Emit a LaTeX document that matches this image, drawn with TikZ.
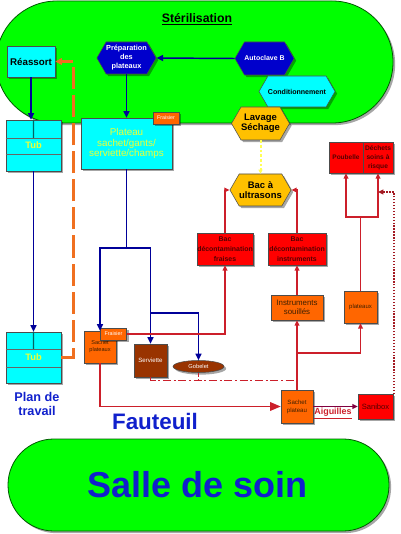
\documentclass[tikz,border=0pt]{standalone}
\usepackage{fontspec}
\setmainfont{Liberation Sans}
\usetikzlibrary{shapes.geometric,shapes.symbols,shadows,arrows.meta,calc}
\newcommand\pxu{0.75pt}
\newcommand\fsz[2]{\fontsize{#1}{#2}\selectfont}
\definecolor{greenc}{HTML}{00FF00}
\definecolor{cyanc}{HTML}{00FFFF}
\definecolor{bluehex}{HTML}{0000CC}
\definecolor{goldc}{HTML}{FFC000}
\definecolor{redc}{HTML}{FF0000}
\definecolor{orc}{HTML}{FF6600}
\definecolor{brownc}{HTML}{993300}
\definecolor{navy}{HTML}{000099}
\definecolor{redline}{HTML}{CC1F2A}
\definecolor{orline}{HTML}{F07020}
\definecolor{textblue}{HTML}{1020CC}
\definecolor{tubyellow}{HTML}{EEFF33}
\definecolor{darkred}{HTML}{550000}
\definecolor{darktext}{HTML}{402000}
\definecolor{purpl}{HTML}{800040}
\definecolor{yline}{HTML}{FFFF55}
\begin{document}
\begin{tikzpicture}[x=0.75pt,y=-0.75pt,
  sh/.style={drop shadow={shadow xshift=1.6pt,shadow yshift=-1.6pt,fill=black,opacity=0.35}},
  bx/.style={rectangle,sh,draw=black!70,line width=0.4pt,inner sep=0pt,align=center},
  cyanbox/.style={bx,fill=cyanc},
  redbox/.style={bx,fill=redc,text=darkred},
  orbox/.style={bx,fill=orc,text=darktext},
  frbox/.style={bx,fill=orc,text=white,minimum width=26*\pxu,minimum height=12*\pxu,font=\fsz{4}{4.5}},
  hexa/.style={shape=signal,signal to=east and west,signal pointer angle=120,sh,draw=black!70,line width=0.4pt,inner sep=0pt,align=center},
  stad/.style={draw=green!35!black,line width=0.6pt,fill=greenc,sh},
  bluel/.style={draw=navy,line width=1.1pt},
  bluea/.style={bluel,-{Triangle[length=5pt,width=4.5pt]}},
  redl/.style={draw=redline,line width=1pt},
  reda/.style={redl,-{Triangle[length=4pt,width=3.5pt]}},
  tubline/.style={draw=black!60,line width=0.5pt},
  tubvert/.style={draw=teal!80!black,line width=0.8pt},
  lbl/.style={inner sep=0pt,align=center}
]
\useasboundingbox (0,0) rectangle (400,534);
% regions
\draw[stad,rounded corners=45.6pt] (-4,1) rectangle (393,123);
\draw[stad,rounded corners=34.4pt] (8,439) rectangle (389,531);
\node[lbl,font=\bfseries\fsz{9.2}{10}] (title) at (197,19) {\underline{Stérilisation}};
% nodes
\node[cyanbox,minimum width=48*\pxu,minimum height=31*\pxu,font=\bfseries\fsz{7.3}{8.5}] (reassort) at (31,61.5) {Réassort};
\node[hexa,fill=bluehex,text=white,minimum width=57*\pxu,minimum height=32*\pxu,font=\bfseries\fsz{5.5}{6.75}] (prep) at (126.5,58) {Préparation\\des\\plateaux};
\node[hexa,fill=bluehex,text=white,minimum width=57*\pxu,minimum height=33*\pxu,font=\bfseries\fsz{5.2}{6.5}] (autoc) at (264.5,58.5) {Autoclave B};
\node[hexa,fill=cyanc,minimum width=66*\pxu,minimum height=31*\pxu,font=\bfseries\fsz{5.3}{6.5}] (cond) at (297,91.5) {Conditionnement};
\node[hexa,fill=goldc,minimum width=57*\pxu,minimum height=33*\pxu,font=\bfseries\fsz{7.1}{7.5}] (lav) at (260.5,123.5) {Lavage\\Séchage};
\node[hexa,fill=goldc,minimum width=57*\pxu,minimum height=32*\pxu,font=\bfseries\fsz{7.1}{7.5}] (ultra) at (260.5,190) {Bac à\\ultrasons};
\node[cyanbox,minimum width=55*\pxu,minimum height=51*\pxu,text=tubyellow,font=\bfseries\fsz{7}{8}] (tub1) at (33.5,145.5) {Tub};
\node[cyanbox,minimum width=55*\pxu,minimum height=51*\pxu,text=tubyellow,font=\bfseries\fsz{7}{8}] (tub2) at (33.5,357.5) {Tub};
\node[cyanbox,minimum width=91*\pxu,minimum height=51*\pxu,text=tubyellow,font=\fsz{7.4}{7.9}] (plateau) at (126.5,143.5) {Plateau\\sachet/gants/\\serviette/champs};
\node[frbox] (fr1) at (166,118) {Fraisier};
\node[orbox,minimum width=32*\pxu,minimum height=32*\pxu,font=\fsz{4.2}{5.2}] (sp1) at (100,347) {Sachet\\plateaux};
\node[frbox] (fr2) at (113.5,334) {Fraisier};
\node[bx,fill=brownc,text=white,minimum width=33*\pxu,minimum height=33*\pxu,font=\fsz{4.6}{5.5}] (serv) at (150.5,360.5) {Serviette};
\node[ellipse,sh,draw=black!70,line width=0.4pt,fill=brownc,text=white,inner sep=0pt,minimum width=51*\pxu,minimum height=12*\pxu,font=\fsz{4.3}{5}] (gob) at (198.5,366.5) {Gobelet};
\node[redbox,minimum width=56*\pxu,minimum height=32*\pxu,font=\bfseries\fsz{5.2}{7.3}] (bacf) at (225,249) {Bac\\décontamination\\fraises};
\node[redbox,minimum width=58*\pxu,minimum height=32*\pxu,font=\bfseries\fsz{5.2}{7.3}] (baci) at (297,249) {Bac\\décontamination\\instruments};
\node[orbox,minimum width=52*\pxu,minimum height=25*\pxu,font=\fsz{5.9}{6.9}] (inst) at (297,307.5) {Instruments\\souillés};
\node[orbox,minimum width=33*\pxu,minimum height=32*\pxu,font=\fsz{4.5}{5}] (plat) at (360.5,307) {plateaux};
\node[redbox,minimum width=34*\pxu,minimum height=31*\pxu,font=\bfseries\fsz{4.9}{6}] (poub) at (346,157.5) {Poubelle};
\node[redbox,minimum width=30*\pxu,minimum height=31*\pxu,font=\bfseries\fsz{5}{6.6}] (dech) at (378,157.5) {Déchets\\soins à\\risque};
\node[orbox,minimum width=32*\pxu,minimum height=33*\pxu,font=\fsz{4.6}{6}] (sp2) at (297,406.5) {Sachet\\plateau};
\node[redbox,minimum width=35*\pxu,minimum height=25*\pxu,font=\fsz{5.7}{6.5}] (sani) at (375.5,406.5) {Sanibox};
% tub rows
\draw[tubline] ($(tub1.north west)!0.353!(tub1.south west)$) -- ($(tub1.north east)!0.353!(tub1.south east)$);
\draw[tubline] ($(tub1.north west)!0.667!(tub1.south west)$) -- ($(tub1.north east)!0.667!(tub1.south east)$);
\draw[tubvert] (tub1.north) -- ($(tub1.north)!0.353!(tub1.south)$);
\draw[tubline] ($(tub2.north west)!0.333!(tub2.south west)$) -- ($(tub2.north east)!0.333!(tub2.south east)$);
\draw[tubline] ($(tub2.north west)!0.686!(tub2.south west)$) -- ($(tub2.north east)!0.686!(tub2.south east)$);
\draw[tubvert] (tub2.north) -- ($(tub2.north)!0.333!(tub2.south)$);
% labels
\node[lbl,text=textblue,font=\bfseries\fsz{9.5}{10.5}] (plan) at (37,404) {Plan de\\travail};
\node[lbl,text=textblue,font=\bfseries\fsz{16.8}{18}] (faut) at (155,421) {Fauteuil};
\node[lbl,text=textblue,font=\bfseries\fsz{27}{30}] (salle) at (197.5,485) {Salle de soin};
\node[lbl,text=redline,font=\bfseries\fsz{6.7}{7}] (aig) at (333,414) {\underline{Aiguilles}};
% blue connectors
\draw[bluea] (autoc.west) -- (prep.east);
\draw[bluea] (prep.south) -- (plateau.north);
\draw[bluea] (reassort.south) -- (reassort.south |- tub1.north);
\draw[bluea] (tub1.south) -- (tub2.north);
\coordinate (bsplit) at (126.5,248);
\draw[bluel] (plateau.south) -- (bsplit);
\draw[bluea] (bsplit) -| (sp1.north);
\draw[bluea] (bsplit) -| (serv.north);
\draw[bluea] (serv.north |- 0,313) -| (gob.north);
% orange dashed
\draw[draw=orline,line width=2.2pt,dash pattern=on 16.5pt off 4.5pt,-{Triangle[length=5pt,width=5pt]}] (tub2.east) -- ++(12,0) |- (reassort.east);
% yellow
\draw[draw=yline,line width=1.5pt,dash pattern=on 2pt off 1.5pt,-{Triangle[length=3pt,width=3pt]}] (lav.south) -- (ultra.north);
% red connectors
\draw[reda] (fr2.east) -| (bacf.south);
\draw[reda] (bacf.north) |- (ultra.west);
\draw[reda] (baci.north) |- (ultra.east);
\draw[reda] (inst.north) -- (baci.south);
\draw[reda] (sp2.north) -- (inst.south);
\coordinate (rj) at (297,353);
\draw[reda] (rj) -| (plat.south);
\coordinate (pj) at (360.5,217);
\draw[redl] (plat.north) -- (pj);
\draw[reda] (pj) -| (poub.south);
\draw[reda] (pj) -| (dech.south);
\draw[redl,-{Triangle[length=8pt,width=6.5pt]}] (sp1.south) |- (sp2.west);
\draw[draw=purpl,line width=1pt,-{Triangle[length=4pt,width=3.5pt]}] (sp2.east) -- (sani.west);
% dash-dot
\draw[redl,dash pattern=on 6pt off 2pt on 1.5pt off 2pt] (serv.south) -- ++(0,3) -| (rj);
\draw[redl,dash pattern=on 3pt off 2pt] (gob.south) -- (gob.south |- 0,380);
% dotted
\coordinate (dt) at (394,394);
\draw[draw=redline!80!black,line width=1pt,dash pattern=on 1pt off 1.2pt,-{Triangle[length=4pt,width=3.5pt]}] (dt) |- (dech.south |- 0,192);
\end{tikzpicture}
\end{document}
